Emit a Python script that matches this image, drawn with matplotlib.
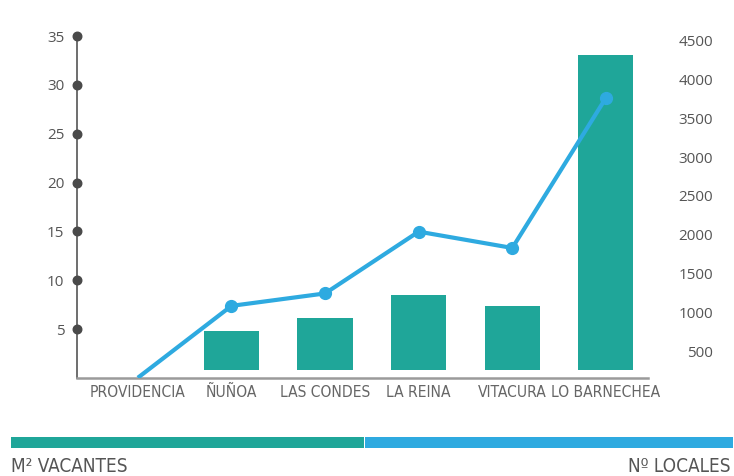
import matplotlib
matplotlib.use("Agg")
import matplotlib.pyplot as plt
from matplotlib.patches import Rectangle
import numpy as np

# ---- data ----
categories = ["PROVIDENCIA", "ÑUÑOA", "LAS CONDES", "LA REINA", "VITACURA", "LO BARNECHEA"]
m2_vacantes = [0.0, 4.8, 6.15, 8.5, 7.35, 33.05]
n_locales = [160, 1085, 1245, 2040, 1830, 3760]
left_ticks = [5, 10, 15, 20, 25, 30, 35]
right_ticks = [500, 1000, 1500, 2000, 2500, 3000, 3500, 4000, 4500]
legend_left = "M² VACANTES"
legend_right = "Nº LOCALES"

GREEN = "#1fa699"
BLUE = "#2eaae0"
BAR_BASE = 0.8

NARROW = ["DejaVu Sans"]
NUM = ["Open Sans", "DejaVu Sans"]

W, H = 734, 476
fig = plt.figure(figsize=(W / 100, H / 100), dpi=100)
ax = fig.add_axes([77 / W, 1 - 378 / H, (648 - 77) / W, (378 - 36) / H])

x = np.arange(len(categories))
heights = np.clip(np.array(m2_vacantes) - BAR_BASE, 0, None)
ax.bar(x, heights, bottom=BAR_BASE, width=0.59, color=GREEN, zorder=2)

ax.set_xlim(-0.65, 5.45)
ax.set_ylim(0, 35)
ax.set_yticks(left_ticks)
ax.set_yticklabels([str(t) for t in left_ticks], fontfamily=NUM, fontsize=11, color="#555555")
ax.tick_params(axis="y", length=0, pad=9)
ax.scatter(np.zeros(len(left_ticks)), left_ticks, s=38, color="#4a4a4a",
           transform=ax.get_yaxis_transform(), clip_on=False, zorder=5)

ax.set_xticks(x)
ax.set_xticklabels(categories, fontfamily=NARROW, fontstretch="condensed",
                   fontsize=11.2, color="#666666")
ax.tick_params(axis="x", length=0, pad=5)

for s in ["top", "right"]:
    ax.spines[s].set_visible(False)
ax.spines["left"].set_color("#555555")
ax.spines["left"].set_linewidth(1.2)
ax.spines["bottom"].set_color("#9a9a9a")
ax.spines["bottom"].set_linewidth(1.8)

ax2 = ax.twinx()
ax2.set_ylim(157, 4557)
ax2.set_yticks(right_ticks)
ax2.set_yticklabels([str(t) for t in right_ticks], fontfamily=NUM, fontsize=11, color="#555555")
ax2.tick_params(axis="y", length=0, pad=47)
for lab in ax2.get_yticklabels():
    lab.set_horizontalalignment("right")
for s in ax2.spines.values():
    s.set_visible(False)

ax2.plot(x, n_locales, color=BLUE, lw=3, marker="o", ms=8.5,
         markevery=list(range(1, len(x))), solid_capstyle="butt", zorder=3)

# bottom legend strip
fig.add_artist(Rectangle((11 / W, 1 - 448 / H), (364 - 11) / W, 11 / H,
                         transform=fig.transFigure, color=GREEN, lw=0))
fig.add_artist(Rectangle((365 / W, 1 - 448 / H), (733 - 365) / W, 11 / H,
                         transform=fig.transFigure, color=BLUE, lw=0))
fig.text(11 / W, 1 - 472 / H, legend_left, ha="left", va="baseline",
         fontfamily=NARROW, fontstretch="condensed", fontsize=13.6, color="#555555")
fig.text(731 / W, 1 - 472 / H, legend_right, ha="right", va="baseline",
         fontfamily=NARROW, fontstretch="condensed", fontsize=13.6, color="#555555")

fig.savefig("out.png", dpi=100)
